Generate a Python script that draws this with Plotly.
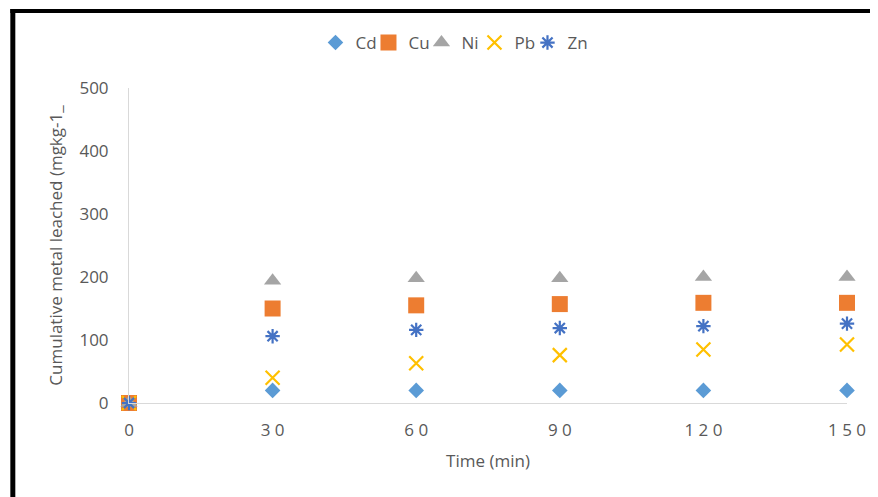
import plotly.graph_objects as go

time_min = [0, 30, 60, 90, 120, 150]
tick_vals = [0, 30, 60, 90, 120, 150]
tick_text = ["0", "3 0", "6 0", "9 0", "1 2 0", "1 5 0"]
y_ticks = [0, 100, 200, 300, 400, 500]

cd = [0, 20, 20, 20, 20, 20]
cu = [0, 150, 155, 157, 159, 159]
ni = [0, 194, 198, 198, 200, 200]
pb = [0, 40, 63, 76, 85, 93]
zn = [0, 106, 116, 119, 122, 126]

FONT = "Open Sans"
GRAY = "#595959"

# page has an 8px body margin; figure coordinates are page coords minus 8
L, T = 121, 80          # plot area left / top in figure px
PW, PH = 720, 315       # plot area width / height

fig = go.Figure()
series = [
    ("Cd", cd, dict(symbol="diamond", size=12, color="#5B9BD5")),
    ("Cu", cu, dict(symbol="square", size=16, color="#ED7D31")),
    ("Ni", ni, dict(symbol="triangle-up", size=15, color="#A5A5A5")),
    ("Pb", pb, dict(symbol="x-thin-open", size=14, color="#FFC000", line=dict(width=2.2, color="#FFC000"))),
    ("Zn", zn, dict(symbol="asterisk-open", size=12, color="#4472C4", line=dict(width=2.2, color="#4472C4"))),
]
for name, vals, mk in series:
    fig.add_trace(go.Scatter(x=time_min, y=vals, name=name, mode="markers",
                             marker=mk, cliponaxis=False))

# invisible spacer entry so the last legend label is not clipped
fig.add_trace(go.Scatter(x=[None], y=[None], name=" ", mode="markers",
                         marker=dict(color="rgba(0,0,0,0)", size=1,
                                     line=dict(width=0, color="rgba(0,0,0,0)")),
                         hoverinfo="skip"))

def px_x(p):
    return (p - L) / PW

def px_y(p):
    return (T + PH - p) / PH

# black frame (cropped screenshot border): left and top edges
fig.add_shape(type="rect", xref="paper", yref="paper",
              x0=px_x(2), x1=px_x(7), y0=px_y(500), y1=px_y(1),
              fillcolor="black", line=dict(width=0), layer="above")
fig.add_shape(type="rect", xref="paper", yref="paper",
              x0=px_x(2), x1=px_x(900), y0=px_y(5), y1=px_y(1),
              fillcolor="black", line=dict(width=0), layer="above")

fig.update_layout(
    width=870, height=489,
    margin=dict(l=L, r=870 - L - PW, t=T, b=489 - T - PH),
    paper_bgcolor="white", plot_bgcolor="white",
    font=dict(family=FONT, color=GRAY, size=17),
    showlegend=True,
    legend=dict(orientation="h", x=px_x(308), xanchor="left", y=px_y(35), yanchor="middle",
                font=dict(size=17, color=GRAY, family=FONT), itemwidth=30,
                entrywidth=8, entrywidthmode="pixels"),
    xaxis=dict(range=[0, 150], tickvals=tick_vals, ticktext=tick_text,
               showgrid=False, zeroline=False, showline=True, linecolor="#D9D9D9", linewidth=1,
               ticks="", tickfont=dict(size=17, color=GRAY), ticklabelstandoff=12,
               title=dict(text="Time (min)", font=dict(size=17, color=GRAY), standoff=14)),
    yaxis=dict(range=[0, 500], tickvals=y_ticks,
               showgrid=False, zeroline=False, showline=True, linecolor="#D9D9D9", linewidth=1,
               ticks="", tickfont=dict(size=17, color=GRAY), ticklabelstandoff=16,
               title=dict(text="Cumulative metal leached (mgkg-1_", font=dict(size=17, color=GRAY), standoff=12)),
)

fig.write_html("out.html")
